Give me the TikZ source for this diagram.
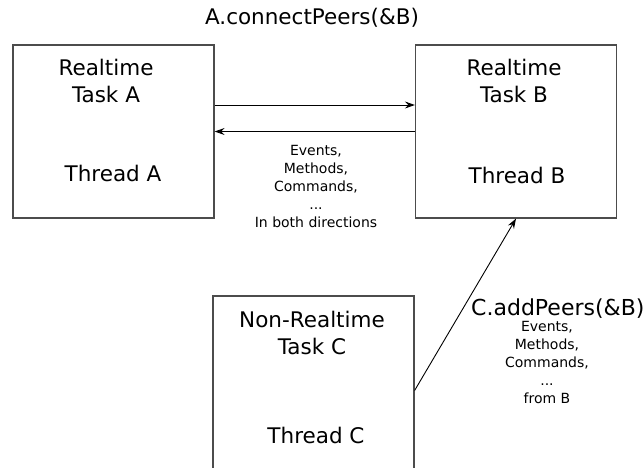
\documentclass[tikz,border=0pt]{standalone}
\usepackage{fontspec}
\setmainfont{DejaVu Sans}
\usetikzlibrary{arrows.meta,positioning}

\tikzset{
	task/.style={draw=black!70, line width=1.2pt, minimum width=201pt, minimum height=173pt, inner sep=0pt},
	big/.style={font=\fontsize{21.5}{27}\selectfont, align=center, inner sep=0pt},
	small/.style={font=\fontsize{14}{18}\selectfont, align=center, inner sep=0pt},
	arr/.style={-{Stealth[length=10pt,width=7pt,inset=3.5pt]}, line width=0.9pt}
}

\begin{document}
\begin{tikzpicture}[x=1pt,y=-1pt]
	\useasboundingbox (0,0) rectangle (643,467);

	\node (A) [task] at (113.5,131.5) {};
	\node (B) [task] at (516,131.5) {};
	\node (C) [task] at (313.5,382.5) {};

	% base of a multi-line node = its last line
	\node (a1) [big, anchor=base] at (106,102) {Realtime\\Task A};
	\node (a2) [big, anchor=base] at (113,181) {Thread A};
	\node (b1) [big, anchor=base] at (514,102) {Realtime\\Task B};
	\node (b2) [big, anchor=base] at (517,183) {Thread B};
	\node (c1) [big, anchor=base] at (312,354) {Non-Realtime\\Task C};
	\node (c2) [big, anchor=base] at (316,443) {Thread C};

	\node (conn) [big, anchor=base] at (312,24) {A.connectPeers(\&B)};
	\node (both) [small, anchor=base] at (316,227) {Events,\\Methods,\\Commands,\\...\\In both directions};

	\node (add) [big, anchor=base west, font=\fontsize{22}{26}\selectfont] at (471,315) {C.addPeers(\&B)};
	\node (fromB) [small, anchor=base] at (547,403) {Events,\\Methods,\\Commands,\\...\\from B};

	\draw [arr] ([yshift=26.5pt]A.east) -- ([yshift=26.5pt]B.west);
	\draw [arr] (B.west) -- (A.east);
	\draw [arr] ([yshift=-8pt]C.east) -- (B.south);

\end{tikzpicture}
\end{document}
